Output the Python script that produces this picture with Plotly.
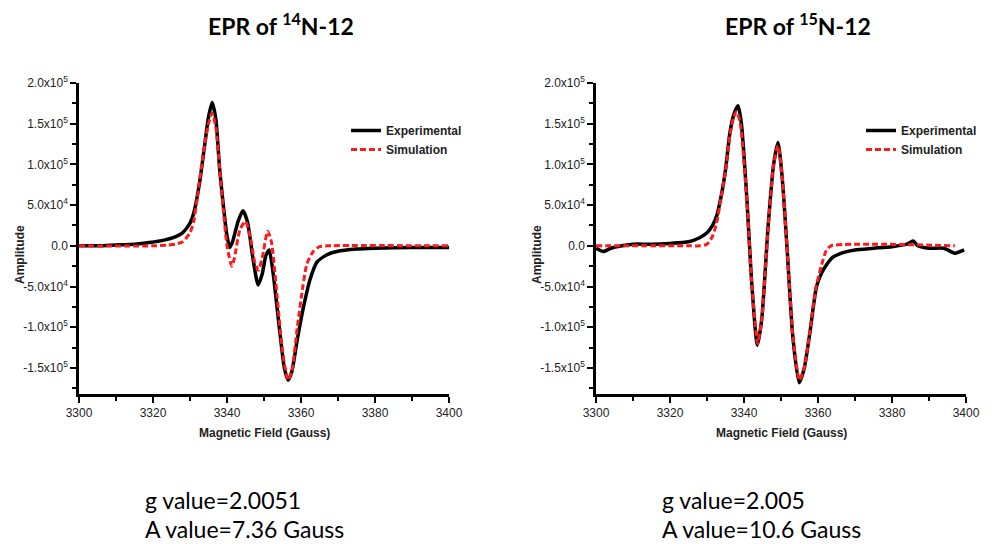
import plotly.graph_objects as go

# ---------------- data (amplitude in units of 1e5) ----------------
field_exp_14 = [3300, 3305, 3310, 3315, 3319, 3323, 3326, 3328, 3330, 3331, 3332.5, 3334, 3335, 3336,
                3337, 3338, 3339, 3340, 3340.8, 3341.5, 3343, 3344.3, 3345.5, 3347, 3348.4, 3349.5,
                3350.5, 3351.4, 3352.5, 3354, 3355.5, 3356.5, 3357.5, 3359, 3360.5, 3362.4, 3364.3,
                3367, 3369.7, 3375, 3380, 3390, 3400]
amp_exp_14 = [0.0, 0.0, 0.01, 0.02, 0.04, 0.07, 0.11, 0.16, 0.28, 0.4, 0.75, 1.25, 1.58, 1.76,
              1.55, 0.95, 0.5, 0.12, -0.02, 0.05, 0.3, 0.43, 0.3, -0.15, -0.48, -0.35,
              -0.12, -0.05, -0.35, -0.95, -1.5, -1.65, -1.55, -1.15, -0.79, -0.42, -0.2,
              -0.11, -0.07, -0.04, -0.03, -0.02, -0.02]

field_sim_14 = [3300, 3320, 3324, 3326, 3328, 3330, 3331, 3332, 3333.5, 3335, 3336, 3337, 3338, 3339,
                3340, 3341.3, 3342, 3343.5, 3345, 3346.3, 3347.5, 3348.5, 3349.5, 3351, 3352, 3353.5,
                3355, 3356.5, 3357.5, 3359, 3360.5, 3361.6, 3363.3, 3365, 3367, 3400]
amp_sim_14 = [0, 0, 0.01, 0.02, 0.05, 0.16, 0.3, 0.6, 1.1, 1.5, 1.63, 1.45, 0.95, 0.45,
              0.0, -0.25, -0.15, 0.2, 0.3, 0.1, -0.2, -0.3, -0.15, 0.18, 0.05, -0.6,
              -1.3, -1.65, -1.55, -1.0, -0.5, -0.22, -0.07, -0.01, 0, 0]

field_exp_15 = [3300, 3302, 3304, 3307, 3310, 3315, 3320, 3325, 3328, 3330, 3331.5, 3332.7, 3334, 3335,
                3336.2, 3337.3, 3338.4, 3339.3, 3340.8, 3342, 3343.6, 3344.8, 3346.5, 3348, 3349.2,
                3350.3, 3351.6, 3353.2, 3354.9, 3356.3, 3357.8, 3359.6, 3361, 3362.5, 3364, 3367,
                3370, 3375, 3380, 3384, 3385.7, 3387, 3390, 3394, 3397, 3399.5]
amp_exp_15 = [-0.03, -0.07, -0.03, 0.0, 0.02, 0.02, 0.03, 0.05, 0.1, 0.16, 0.25, 0.38, 0.65, 0.93,
              1.39, 1.62, 1.72, 1.5, 0.56, -0.4, -1.22, -0.9, 0.23, 1.0, 1.27,
              0.85, 0.0, -1.12, -1.68, -1.5, -1.07, -0.5, -0.33, -0.22, -0.14, -0.08,
              -0.05, -0.03, -0.01, 0.02, 0.06, 0.0, -0.03, -0.03, -0.09, -0.05]

field_sim_15 = [3300, 3325, 3328, 3330, 3331.5, 3332.6, 3334, 3335, 3336.2, 3337.2, 3338, 3339, 3340.8,
                3342, 3343.7, 3344.8, 3346.5, 3348, 3349.2, 3350.3, 3351.6, 3353.2, 3355, 3356.3,
                3357.8, 3359.5, 3361, 3362.2, 3363.5, 3397]
amp_sim_15 = [0, 0, 0.0, 0.02, 0.12, 0.28, 0.65, 0.92, 1.36, 1.58, 1.65, 1.5, 0.55,
              -0.4, -1.2, -0.9, 0.2, 1.0, 1.23, 0.85, 0.0, -1.1, -1.65, -1.5,
              -1.05, -0.5, -0.23, -0.06, 0, 0]

y_tick_vals = [-1.5, -1.0, -0.5, 0.0, 0.5, 1.0, 1.5, 2.0]
y_tick_text = ["-1.5x10<sup>5</sup>", "-1.0x10<sup>5</sup>", "-5.0x10<sup>4</sup>", "0.0",
               "5.0x10<sup>4</sup>", "1.0x10<sup>5</sup>", "1.5x10<sup>5</sup>", "2.0x10<sup>5</sup>"]
x_tick_vals = [3300, 3320, 3340, 3360, 3380, 3400]

titles = ["EPR of <sup>14</sup>N-12", "EPR of <sup>15</sup>N-12"]
params = [["g value=2.0051", "A value=7.36 Gauss"], ["g value=2.005", "A value=10.6 Gauss"]]

SCALE = 1e5
W, H = 996, 544

fig = go.Figure()

panels = [
    (field_exp_14, amp_exp_14, field_sim_14, amp_sim_14, "x", "y", "legend"),
    (field_exp_15, amp_exp_15, field_sim_15, amp_sim_15, "x2", "y2", "legend2"),
]
for fe, ae, fs, as_, xa, ya, lg in panels:
    fig.add_trace(go.Scatter(x=fe, y=[v * SCALE for v in ae], mode="lines", name="Experimental",
                             line=dict(color="black", width=3.5, shape="spline", smoothing=0.6),
                             xaxis=xa, yaxis=ya, legend=lg))
    fig.add_trace(go.Scatter(x=fs, y=[v * SCALE for v in as_], mode="lines", name="Simulation",
                             line=dict(color="#ff1a1a", width=3, dash="6px,3px", shape="spline", smoothing=0.6),
                             xaxis=xa, yaxis=ya, legend=lg))

x_domains = [[79 / W, 449 / W], [596 / W, 966 / W]]
y_domain = [1 - 394 / H, 1 - 83 / H]
tickfont = dict(family="Liberation Sans, Arial", size=12, color="#222")

def xaxis_cfg(dom, anchor):
    return dict(domain=dom, anchor=anchor, range=[3300, 3400], tickvals=x_tick_vals,
                showline=True, linecolor="black", linewidth=2.5, ticks="outside", ticklen=6,
                tickwidth=2, tickcolor="black", showgrid=False, zeroline=False, tickfont=tickfont,
                automargin=False,
                minor=dict(dtick=10, ticks="outside", ticklen=4, tickwidth=2, tickcolor="black",
                           showgrid=False))

def yaxis_cfg(anchor):
    return dict(domain=y_domain, anchor=anchor, range=[-1.82 * SCALE, 2.0 * SCALE],
                tickvals=[v * SCALE for v in y_tick_vals], ticktext=y_tick_text,
                showline=True, linecolor="black", linewidth=2.5, ticks="outside", ticklen=6,
                tickwidth=2, tickcolor="black", showgrid=False, zeroline=False, tickfont=tickfont,
                automargin=False,
                minor=dict(tickvals=[v * SCALE for v in [-1.75, -1.25, -0.75, -0.25, 0.25, 0.75, 1.25, 1.75]],
                           ticks="outside", ticklen=4, tickwidth=2, tickcolor="black", showgrid=False))

legfont = dict(family="Liberation Sans, Arial", size=12, color="#222", weight="bold")

fig.update_layout(
    width=W, height=H, margin=dict(l=0, r=0, t=0, b=0, pad=0, autoexpand=False),
    paper_bgcolor="white", plot_bgcolor="white",
    xaxis=xaxis_cfg(x_domains[0], "y"), yaxis=yaxis_cfg("x"),
    xaxis2=xaxis_cfg(x_domains[1], "y2"), yaxis2=yaxis_cfg("x2"),
    legend=dict(x=346 / W, y=1 - 116 / H, xanchor="left", yanchor="top", bgcolor="rgba(0,0,0,0)",
                font=legfont, tracegroupgap=0, itemwidth=30, borderwidth=0),
    legend2=dict(x=861 / W, y=1 - 116 / H, xanchor="left", yanchor="top", bgcolor="rgba(0,0,0,0)",
                 font=legfont, tracegroupgap=0, itemwidth=30, borderwidth=0),
    showlegend=True,
)

annotations = []
for i, dom in enumerate(x_domains):
    cx = (dom[0] + dom[1]) / 2
    annotations.append(dict(text=titles[i], x=cx + 17 / W, y=1 - 25 / H, xref="paper", yref="paper",
                            showarrow=False, xanchor="center", yanchor="middle",
                            font=dict(family="Lato", size=23, color="black", weight="bold")))
    annotations.append(dict(text="Magnetic Field (Gauss)", x=cx, y=1 - 433 / H, xref="paper", yref="paper",
                            showarrow=False, xanchor="center", yanchor="middle",
                            font=dict(family="Liberation Sans, Arial", size=12, color="#222", weight="bold")))
    annotations.append(dict(text="Amplitude", x=(dom[0] * W - 59) / W, y=1 - 255 / H, xref="paper", yref="paper",
                            showarrow=False, xanchor="center", yanchor="middle", textangle=-90,
                            font=dict(family="Liberation Sans, Arial", size=12, color="#222", weight="bold")))
    for j, line in enumerate(params[i]):
        annotations.append(dict(text=line, x=(dom[0] * W + 64) / W, y=1 - (500 + 29 * j) / H,
                                xref="paper", yref="paper", showarrow=False, xanchor="left", yanchor="middle",
                                font=dict(family="Lato", size=23, color="black")))
fig.update_layout(annotations=annotations)

fig.write_html("out.html")
